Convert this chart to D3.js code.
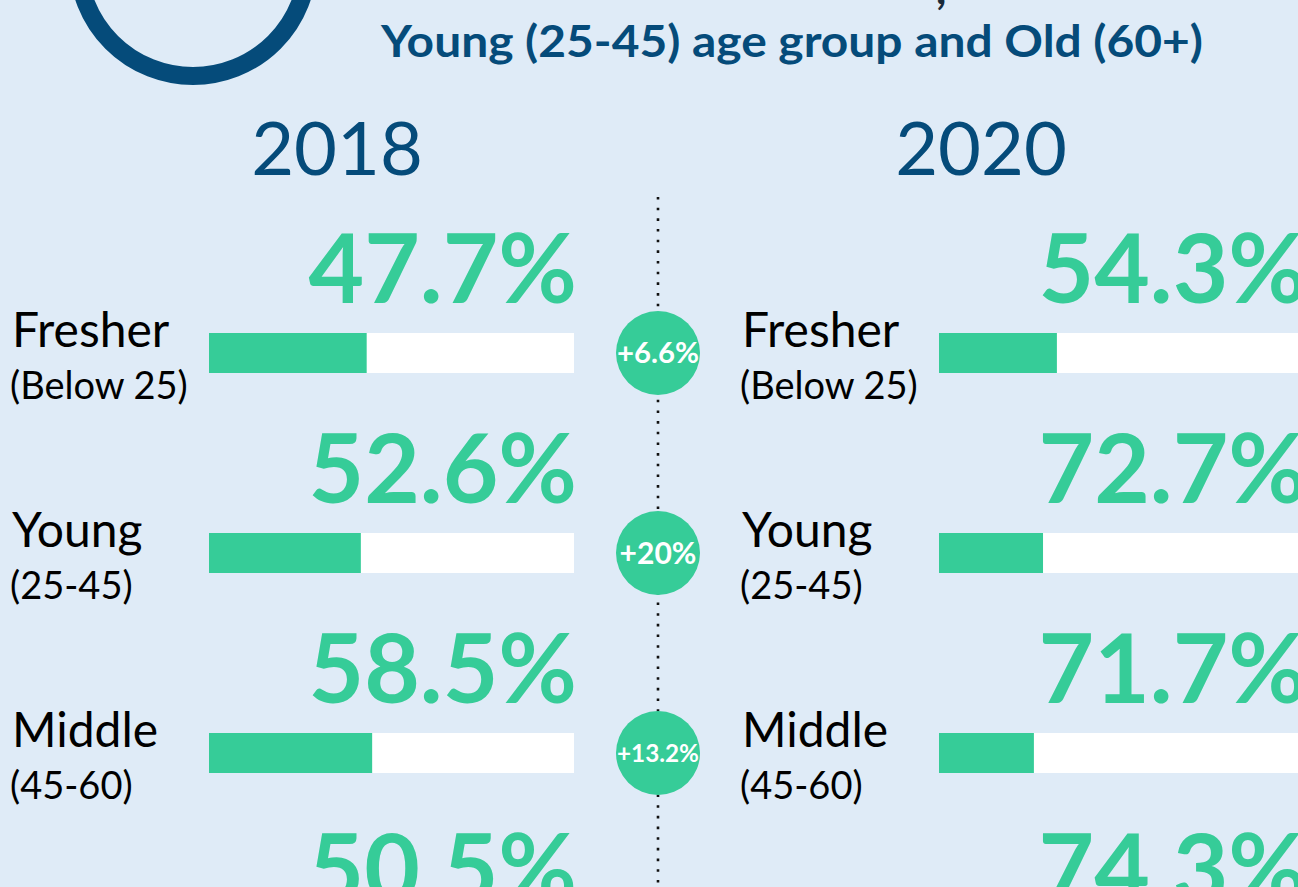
<!DOCTYPE html>
<html><head><meta charset="utf-8">
<script src="https://cdn.jsdelivr.net/npm/d3@7"></script>
<style>
html,body{margin:0;padding:0;background:#dfebf7;overflow:hidden;}
svg{display:block;}
text{font-family:Lato,"Open Sans",sans-serif;}
</style></head>
<body><svg id="c" width="1298" height="887"></svg>
<script>
// ---- data ----
const categories = ["Fresher", "Young", "Middle", "Old"];
const subLabels = ["(Below 25)", "(25-45)", "(45-60)", "(60+)"];
const years = ["2018", "2020"];
const values2018 = [47.7, 52.6, 58.5, 50.5];
const values2020 = [54.3, 72.7, 71.7, 74.3];
const deltaLabels = ["+6.6%", "+20%", "+13.2%", "+23.8%"];
// bar fill lengths as drawn (share of the track, %)
const barFill2018 = [43.2, 41.6, 44.7, 43];
const barFill2020 = [32.3, 28.5, 26.0, 27];
const titleLine = "Young (25-45) age group and Old (60+)";

// ---- styles ----
const BLUE = "#054b7a", GREEN = "#36cc98", BG = "#dfebf7";
const svg = d3.select("#c");
svg.append("rect").attr("width",1298).attr("height",887).attr("fill",BG);

// header ring + title
svg.append("circle").attr("cx",193).attr("cy",-39).attr("r",115)
  .attr("fill","none").attr("stroke",BLUE).attr("stroke-width",18);
svg.append("text").attr("x",936).attr("y",4).attr("font-size",44).attr("font-weight",700)
  .attr("fill","#1a2a3a").text(",");
svg.append("text").attr("x",381).attr("y",57).attr("font-size",44).attr("font-weight",700)
  .attr("fill",BLUE).attr("textLength",822).attr("lengthAdjust","spacingAndGlyphs").text(titleLine);

// layout scales
const panelX = d3.scaleOrdinal().domain(years).range([0, 730]);
const yearCenter = d3.scaleOrdinal().domain(years).range([337, 981]);
const rowY = d3.scaleLinear().domain([0, 1]).range([333, 533]); // bar top per row index
const barW = d3.scaleLinear().domain([0, 100]).range([0, 365]);
const barH = 40, barX0 = 209, labelX0 = 12;

// year headers
svg.selectAll("text.year").data(years).join("text").attr("class","year")
  .attr("x", d => yearCenter(d)).attr("y",175).attr("text-anchor","middle")
  .attr("font-size",74).attr("fill",BLUE).text(d => d);

// center dotted line
svg.append("line").attr("x1",658).attr("x2",658).attr("y1",197).attr("y2",887)
  .attr("stroke","#111").attr("stroke-width",2.6).attr("stroke-dasharray","2.6 8.07");

const panels = [
  {year:"2018", values:values2018, fills:barFill2018},
  {year:"2020", values:values2020, fills:barFill2020}
];
panels.forEach(p => {
  const g = svg.append("g").attr("transform", `translate(${panelX(p.year)},0)`);
  const rows = g.selectAll("g.row").data(categories).join("g").attr("class","row")
    .attr("transform", (d,i) => `translate(0,${rowY(i)})`);
  rows.append("rect").attr("x",barX0).attr("y",0).attr("width",barW(100)).attr("height",barH).attr("fill","#fff");
  rows.append("rect").attr("x",barX0).attr("y",0).attr("width",(d,i)=>barW(p.fills[i])).attr("height",barH).attr("fill",GREEN);
  rows.append("text").attr("x",barX0+barW(100)+3).attr("y",-30).attr("text-anchor","end")
    .attr("font-size",96).attr("font-weight",700).attr("fill",GREEN)
    .text((d,i)=>p.values[i].toFixed(1)+"%");
  rows.append("text").attr("x",labelX0).attr("y",14).attr("font-size",48).attr("fill","#000").text(d=>d);
  rows.append("text").attr("x",labelX0-2).attr("y",66).attr("font-size",38).attr("fill","#000")
    .text((d,i)=>subLabels[i]);
});

// delta circles
const dg = svg.selectAll("g.delta").data(deltaLabels).join("g").attr("class","delta")
  .attr("transform",(d,i)=>`translate(658,${rowY(i)+barH/2})`);
dg.append("circle").attr("r",42).attr("fill",GREEN);
dg.append("text").attr("text-anchor","middle").attr("dy","0.35em").attr("font-weight",700)
  .attr("fill","#fff").attr("font-size",30).text(d=>d)
  .each(function(){
    const w = this.getComputedTextLength();
    if (w > 82) d3.select(this).attr("font-size", 30*82/w);
  });
</script></body></html>
